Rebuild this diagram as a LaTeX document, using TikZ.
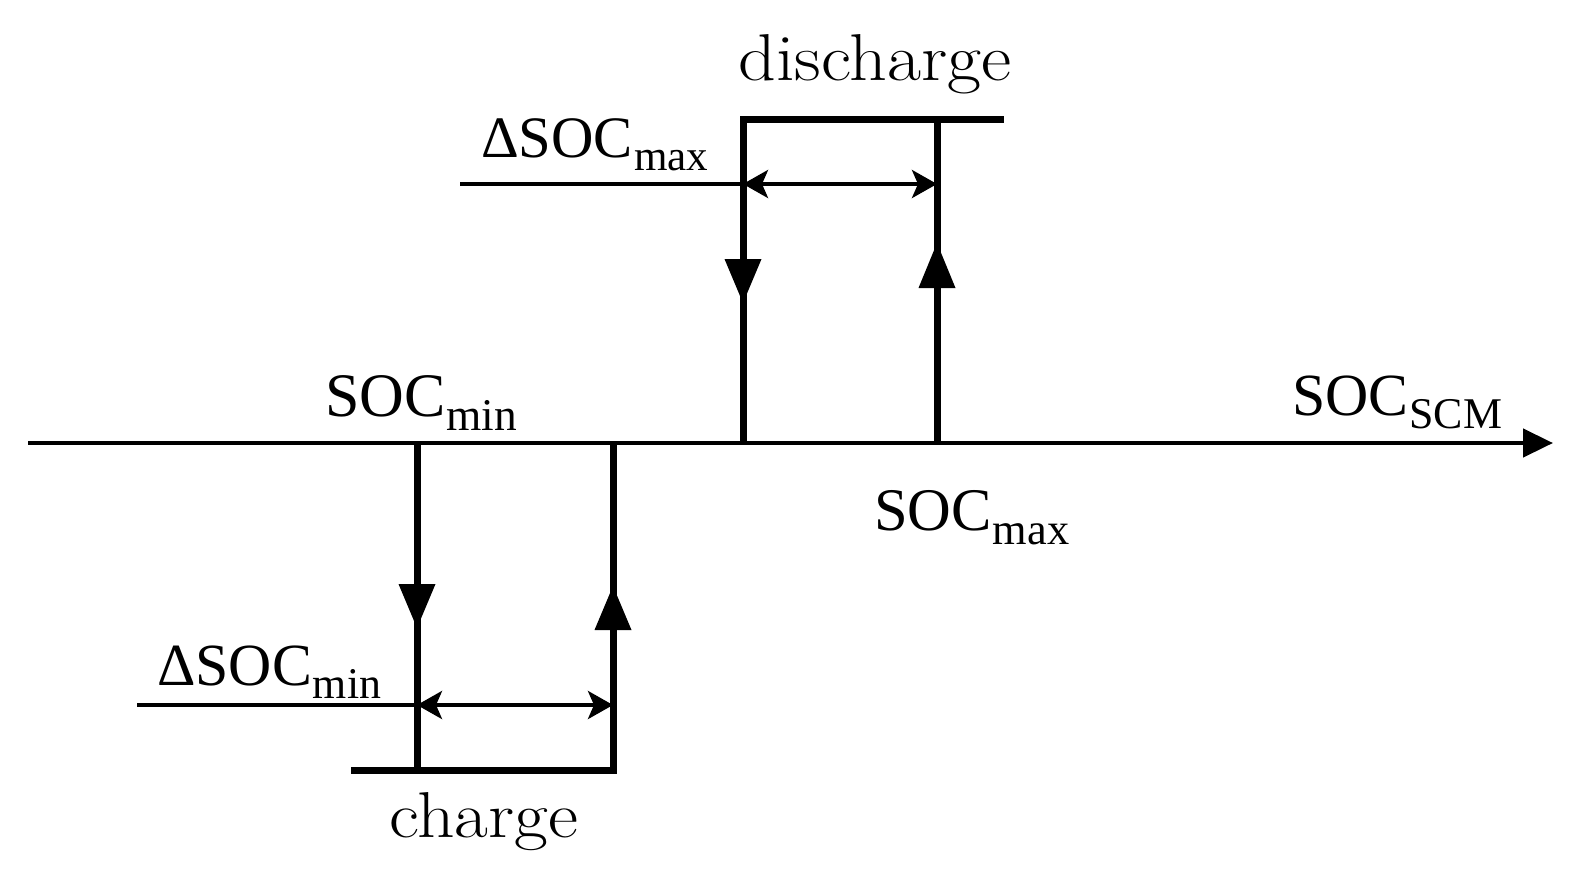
\documentclass[tikz,border=0pt]{standalone}
\usepackage{fontspec}
\usepackage{graphicx}
\newfontfamily\tnr{Liberation Serif}
\usetikzlibrary{arrows.meta}
\newcommand{\soclab}[3]{\resizebox{#1}{!}{\tnr\fontsize{60}{64}\selectfont #2SOC\kern1pt\raisebox{-14pt}{\fontsize{44}{44}\selectfont #3}}}
\begin{document}
\begin{tikzpicture}[x=1pt,y=-1pt,
  thickln/.style={line width=7pt,line join=miter,line cap=butt},
  axisln/.style={line width=4.5pt},
  thinln/.style={line width=4pt},
  lbl/.style={anchor=base west,inner sep=0pt},
  headfill/.style={fill=black},
  dim/.style={thinln,{Stealth[length=25pt,width=28pt,inset=6pt]}-{Stealth[length=25pt,width=28pt,inset=6pt]}}
]
\useasboundingbox (0,0) rectangle (1585,887);
% coordinates
\coordinate (axL) at (28,443);
\coordinate (axR) at (1553,443);
\coordinate (uL0) at (743,443);
\coordinate (uLt) at (743,119);
\coordinate (uRt) at (937,119);
\coordinate (uR0) at (937,443);
\coordinate (uEnd) at (1004,119);
\coordinate (lL0) at (417,443);
\coordinate (lLb) at (417,770);
\coordinate (lRb) at (613,770);
\coordinate (lR0) at (613,443);
\coordinate (lStart) at (351,770);
\coordinate (dU0) at (460,184);
\coordinate (dUa) at (743,184);
\coordinate (dUb) at (937,184);
\coordinate (dL0) at (137,705);
\coordinate (dLa) at (417,705);
\coordinate (dLb) at (613,705);
% axis
\draw[axisln,-{Triangle[length=30pt,width=28pt]}] (axL) -- (axR);
% upper loop
\draw[thickln] (uL0) -- (uLt) -- (uEnd);
\draw[thickln] (uRt) -- (uR0);
% lower loop
\draw[thickln] (lL0) -- (lLb);
\draw[thickln] (lStart) -- (lRb) -- (lR0);
% direction heads
\fill[headfill] (724.5,259) -- (761.5,259) -- (743,303) -- cycle;
\fill[headfill] (918.5,288) -- (955.5,288) -- (937,243) -- cycle;
\fill[headfill] (398.5,584) -- (435.5,584) -- (417,628) -- cycle;
\fill[headfill] (594.5,630) -- (631.5,630) -- (613,586) -- cycle;
% dimension lines
\draw[thinln] (dU0) -- (dUa);
\draw[dim] (dUa) -- (dUb);
\draw[thinln] (dL0) -- (dLa);
\draw[dim] (dLa) -- (dLb);
% labels
\node[lbl] (tdis) at (738,80) {\resizebox{273pt}{46pt}{\fontsize{66}{70}\selectfont discharge}};
\node[lbl] (tch) at (389,837) {\resizebox{189pt}{45pt}{\fontsize{66}{70}\selectfont charge}};
\node[lbl] (tdmax) at (481,157) {\soclab{227pt}{Δ}{max}};
\node[lbl] (tdmin) at (157,685) {\soclab{224pt}{Δ}{min}};
\node[lbl] (tmin) at (325,416) {\soclab{192pt}{}{min}};
\node[lbl] (tmax) at (874,530) {\soclab{195pt}{}{max}};
\node[lbl] (tscm) at (1292,415) {\soclab{210pt}{}{SCM}};
\end{tikzpicture}
\end{document}
